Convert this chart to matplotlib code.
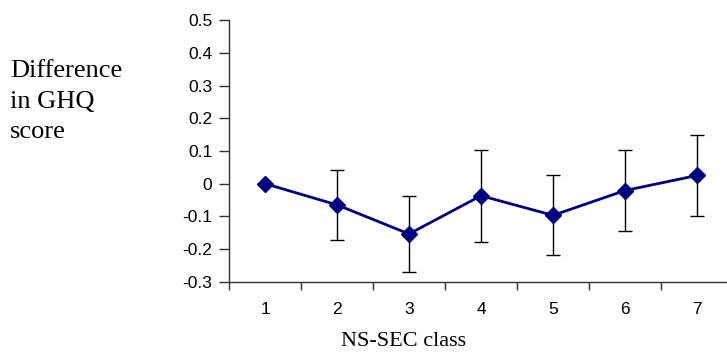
import matplotlib
matplotlib.use("Agg")
import matplotlib.pyplot as plt
import numpy as np

# NS-SEC classes and estimated differences in GHQ score with confidence limits
classes = ["1", "2", "3", "4", "5", "6", "7"]
diff = [0.0, -0.065, -0.154, -0.037, -0.097, -0.021, 0.025]
ci_low = [0.0, -0.172, -0.271, -0.179, -0.219, -0.144, -0.100]
ci_high = [0.0, 0.041, -0.038, 0.103, 0.027, 0.102, 0.148]
yticks = [-0.3, -0.2, -0.1, 0.0, 0.1, 0.2, 0.3, 0.4, 0.5]
ytick_labels = ["-0.3", "-0.2", "-0.1", "0", "0.1", "0.2", "0.3", "0.4", "0.5"]
ylabel_lines = ["Difference", "in GHQ", "score"]

W, H = 727, 354
fig = plt.figure(figsize=(W / 100, H / 100), dpi=100)
# axes in pixel terms: left 229, right 733, top 20.4, bottom 281.6
ax = fig.add_axes([229 / W, 1 - 281.6 / H, (733 - 229) / W, (281.6 - 20.4) / H])

x = np.arange(1, len(classes) + 1)
d = np.array(diff)
lo = np.array(ci_low)
hi = np.array(ci_high)
err = np.vstack([d - lo, hi - d])
has_err = (hi - lo) > 0

ax.errorbar(x[has_err], d[has_err], yerr=err[:, has_err], fmt="none",
            ecolor="black", elinewidth=1, capsize=5, capthick=1, zorder=2)
ax.plot(x, d, color="#000080", lw=2, marker="D", ms=7.8,
        markerfacecolor="#000080", markeredgecolor="#000080", zorder=3)

ax.set_xlim(0.5, 7.5)
ax.set_ylim(-0.3, 0.5)
ax.set_yticks(yticks)
ax.set_yticklabels(ytick_labels)

# category ticks sit between classes; labels are centred on each class
ax.set_xticks(np.arange(0.5, 8.0, 1.0))
ax.set_xticklabels([])
ax.set_xticks(x, minor=True)
ax.set_xticklabels(classes, minor=True)
ax.tick_params(axis="x", which="minor", length=0, pad=15)
ax.tick_params(axis="x", which="major", length=6, width=1, color="#303030", direction="out")
ax.tick_params(axis="y", length=7, width=1, color="#303030", direction="out", pad=5)

for lab in ax.get_xticklabels(minor=True) + ax.get_yticklabels():
    lab.set_fontfamily("Liberation Sans")
    lab.set_fontsize(12.5)

for side in ("top", "right"):
    ax.spines[side].set_visible(False)
for side in ("left", "bottom"):
    ax.spines[side].set_color("#303030")
    ax.spines[side].set_linewidth(1)

for line, base_px in zip(ylabel_lines, (77, 107.5, 138)):
    fig.text(10 / W, 1 - base_px / H, line, family="Liberation Serif",
             fontsize=19, va="baseline", ha="left")
fig.text(404 / W, 1 - 341 / H, "NS-SEC class", family="Liberation Serif",
         fontsize=16, ha="center", va="center")

fig.savefig("out.png", dpi=100)
